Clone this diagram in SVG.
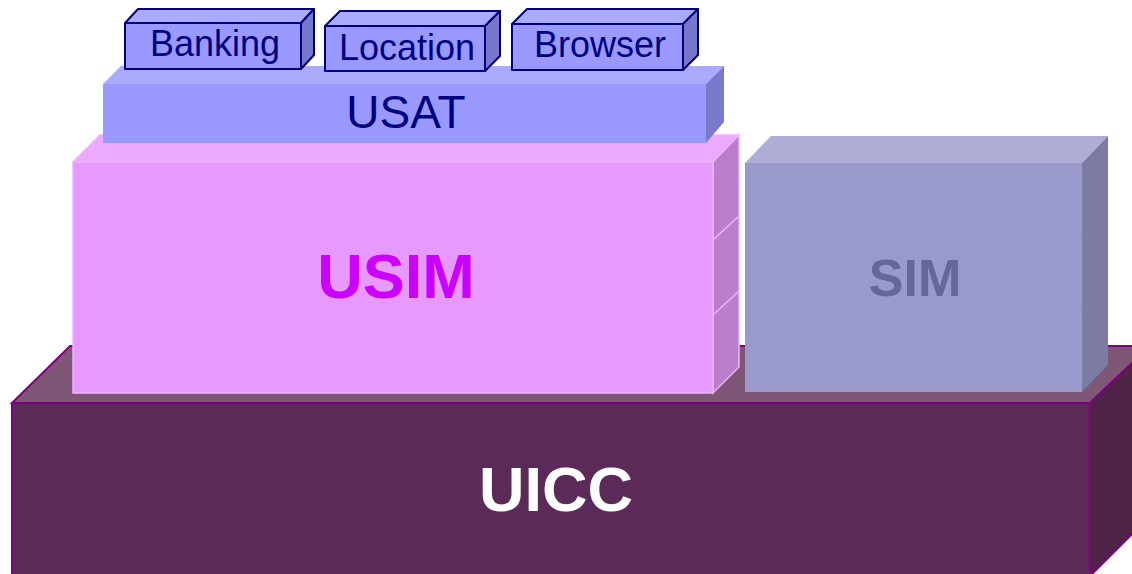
<svg xmlns="http://www.w3.org/2000/svg" width="1132" height="574" viewBox="0 0 1132 574">
  <style>
    text { font-family: "Liberation Sans", Arial, sans-serif; text-anchor: middle; }
    .uicc-front { fill: #5C2A58; stroke: #800080; stroke-width: 2; }
    .uicc-top { fill: #7E5777; stroke: #800080; stroke-width: 2; }
    .uicc-side { fill: #4D2446; stroke: #800080; stroke-width: 2; }
    .usim-front { fill: #E899FF; stroke: #F0B2FF; stroke-width: 1.5; }
    .usim-top { fill: #EBA9FF; stroke: #F0B2FF; stroke-width: 1.5; }
    .usim-side { fill: #BB7ECC; stroke: #F0B2FF; stroke-width: 1.5; }
    .usim-div { stroke: #F0B2FF; stroke-width: 1.5; fill: none; }
    .sim-front { fill: #9999CC; }
    .sim-top { fill: #ADADD6; }
    .sim-side { fill: #7B7BA3; }
    .sim-div { stroke: #8585AE; stroke-width: 1; fill: none; }
    .usat-front { fill: #9999FF; }
    .usat-top { fill: #AAAAFF; }
    .usat-side { fill: #7A7ACC; }
    .app-front { fill: #9999FF; stroke: #000080; stroke-width: 2; stroke-linejoin: round; }
    .app-top { fill: #AAAAFF; stroke: #000080; stroke-width: 2; stroke-linejoin: round; }
    .app-side { fill: #7777CC; stroke: #000080; stroke-width: 2; stroke-linejoin: round; }
    .app-label { fill: #000080; font-size: 36px; }
  </style>

  <!-- base card layer -->
  <g id="uicc">
    <polygon class="uicc-top" points="12,403 70,346 1150,346 1090,403"/>
    <polygon class="uicc-side" points="1090,403 1150,346 1150,516 1090,576"/>
    <rect class="uicc-front" x="12" y="403" width="1078" height="175"/>
    <text x="556" y="511" font-size="63" font-weight="bold" fill="#FFFFFF">UICC</text>
  </g>

  <!-- USIM application block -->
  <g id="usim">
    <polygon class="usim-top" points="73,162 100,135 739,135 713,162"/>
    <polygon class="usim-side" points="713,162 739,135 739,367 713,393"/>
    <line class="usim-div" x1="713" y1="240" x2="739" y2="216"/>
    <line class="usim-div" x1="713" y1="315" x2="739" y2="291"/>
    <rect class="usim-front" x="73" y="162" width="640" height="231"/>
    <text x="396" y="298" font-size="63" font-weight="bold" fill="#CC00FF">USIM</text>
  </g>

  <!-- SIM application block -->
  <g id="sim">
    <polygon class="sim-top" points="745,163 771,136 1108,136 1082,163"/>
    <polygon class="sim-side" points="1082,163 1108,136 1108,365 1082,392"/>
    <line class="sim-div" x1="1082" y1="240" x2="1108" y2="215"/>
    <line class="sim-div" x1="1082" y1="315" x2="1108" y2="290"/>
    <rect class="sim-front" x="745" y="163" width="337" height="229"/>
    <text x="915" y="296" font-size="52" font-weight="bold" fill="#666699">SIM</text>
  </g>

  <!-- toolkit layer -->
  <g id="usat">
    <polygon class="usat-top" points="103,84 121,66 724,66 706,84"/>
    <polygon class="usat-side" points="706,84 724,66 724,122 706,143"/>
    <rect class="usat-front" x="103" y="84" width="603" height="59"/>
    <text x="406" y="128" font-size="46" fill="#000080">USAT</text>
  </g>

  <!-- toolkit applications -->
  <g id="banking">
    <polygon class="app-top" points="125,23 138,9 314,9 301,23"/>
    <polygon class="app-side" points="301,23 314,9 314,55 301,69"/>
    <rect class="app-front" x="125" y="23" width="176" height="46"/>
    <text class="app-label" x="215" y="56">Banking</text>
  </g>

  <g id="location">
    <polygon class="app-top" points="325,26 340,11 500,11 485,26"/>
    <polygon class="app-side" points="485,26 500,11 500,56 485,71"/>
    <rect class="app-front" x="325" y="26" width="160" height="45"/>
    <text class="app-label" x="407" y="60" font-size="37">Location</text>
  </g>

  <g id="browser">
    <polygon class="app-top" points="512,24 527,9 698,9 683,24"/>
    <polygon class="app-side" points="683,24 698,9 698,55 683,70"/>
    <rect class="app-front" x="512" y="24" width="171" height="46"/>
    <text class="app-label" x="600" y="57">Browser</text>
  </g>

  <g id="connectors"/>
</svg>
